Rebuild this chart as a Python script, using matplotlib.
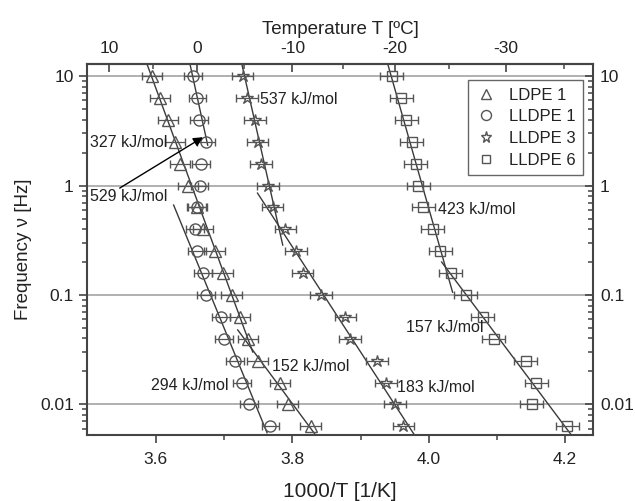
import matplotlib
matplotlib.use("Agg")
import matplotlib.pyplot as plt
from matplotlib.lines import Line2D
from matplotlib.ticker import FixedLocator, NullFormatter, LogLocator

plt.rcParams['font.family'] = ['Liberation Sans', 'DejaVu Sans']

# measurement frequencies (Hz)
freq = [10, 6.31, 3.98, 2.51, 1.58, 1.0, 0.631, 0.398, 0.251, 0.158,
        0.1, 0.0631, 0.0398, 0.0251, 0.0158, 0.01, 0.00631]

# 1000/T of the peak for each material
ldpe1 = [3.594, 3.606, 3.618, 3.628, 3.635, 3.647, 3.660, 3.669, 3.686,
         3.698, 3.711, 3.723, 3.735, 3.749, 3.782, 3.793, 3.827]
lldpe1 = [3.654, 3.661, 3.663, 3.673, 3.666, 3.664, 3.660, 3.657, 3.660,
          3.669, 3.673, 3.695, 3.700, 3.716, 3.726, 3.736, 3.768]
lldpe3 = [3.727, 3.733, 3.745, 3.749, 3.754, 3.764, 3.771, 3.790, 3.805,
          3.815, 3.842, 3.878, 3.884, 3.924, 3.937, 3.951, 3.963]
lldpe6 = [3.946, 3.960, 3.967, 3.975, 3.981, 3.985, 3.992, 4.006, 4.017,
          4.032, 4.054, 4.079, 4.095, 4.142, 4.158, 4.151, 4.203]
xerr = [0.015, 0.013, 0.016, 0.017]

series_names = ['LDPE 1', 'LLDPE 1', 'LLDPE 3', 'LLDPE 6']
markers = ['^', 'o', '*', 's']
msizes = [8, 8, 9, 7]

# Arrhenius fit segments: (x1, x2), (f1, f2), label
fit_x = [(3.587, 3.742), (3.720, 3.834), (3.650, 3.676), (3.626, 3.763),
         (3.726, 3.786), (3.749, 3.979), (3.940, 4.035), (4.019, 4.209)]
fit_f = [(12.9, 0.0301), (0.0479, 0.00526), (12.9, 2.34), (0.664, 0.0055),
         (12.9, 0.286), (0.854, 0.00526), (12.9, 0.106), (0.200, 0.00526)]
ea_labels = ['327 kJ/mol', '152 kJ/mol', '529 kJ/mol', '294 kJ/mol',
             '537 kJ/mol', '183 kJ/mol', '423 kJ/mol', '157 kJ/mol']
label_pos = [(3.503, 2.50), (3.770, 0.0220), (3.503, 0.80), (3.593, 0.01476),
             (3.752, 6.17), (3.953, 0.01416), (4.013, 0.609), (3.967, 0.050)]

mc = '#555555'
lc = '#3a3a3a'
tc = '#222222'

fig = plt.figure(figsize=(6.35, 5.01), dpi=100)
ax = fig.add_axes([0.137, 0.132, 0.797, 0.740])
ax.set_yscale('log')
ax.set_xlim(3.499, 4.241)
ax.set_ylim(0.00526, 12.9)

for yv in [10, 1, 0.1, 0.01]:
    ax.axhline(yv, color='#aaaaaa', lw=1.3, zorder=1)

for (x1, x2), (f1, f2) in zip(fit_x, fit_f):
    ax.plot([x1, x2], [f1, f2], color=lc, lw=1.0, zorder=2)

for xs, m, ms, xe in zip([ldpe1, lldpe1, lldpe3, lldpe6], markers, msizes, xerr):
    ax.errorbar(xs, freq, xerr=xe, fmt=m, ms=ms, mfc='none', mec=mc, mew=1.0,
                ecolor=mc, elinewidth=0.9, capsize=3, capthick=0.9, zorder=3)

for lab, (lx, ly) in zip(ea_labels, label_pos):
    ax.text(lx, ly, lab, fontsize=11.5, color=tc, ha='left', va='center', zorder=4)

ax.annotate('', xy=(3.669, 2.77), xytext=(3.547, 0.949),
            arrowprops=dict(arrowstyle='-|>', color='black', lw=1.0,
                            mutation_scale=14, shrinkA=0, shrinkB=0), zorder=5)

handles = [Line2D([], [], ls='none', marker=m, ms=ms * 0.9, mfc='none', mec=mc, mew=1.0)
           for m, ms in zip(markers, msizes)]
leg = ax.legend(handles, series_names, loc='upper right', bbox_to_anchor=(0.980, 0.957),
                borderaxespad=0, fancybox=False, framealpha=1, edgecolor='#666666',
                fontsize=12, handlelength=1.2, handletextpad=0.8, labelspacing=0.4,
                borderpad=0.45)
leg.get_frame().set_linewidth(1.0)
for t in leg.get_texts():
    t.set_color(tc)

for sp in ax.spines.values():
    sp.set_color('#444444')
    sp.set_linewidth(1.5)

ax.set_xticks([3.6, 3.8, 4.0, 4.2])
ax.set_xticklabels(['3.6', '3.8', '4.0', '4.2'])
ax.xaxis.set_minor_locator(FixedLocator([3.7, 3.9, 4.1]))
ax.set_yticks([0.01, 0.1, 1, 10])
ax.set_yticklabels(['0.01', '0.1', '1', '10'])
ax.yaxis.set_minor_locator(LogLocator(base=10, subs=range(2, 10)))
ax.yaxis.set_minor_formatter(NullFormatter())
ax.tick_params(which='major', direction='out', length=6, width=1.2, colors='#444444',
               labelsize=12.5, labelcolor=tc, top=False, right=False)
ax.tick_params(axis='x', which='major', pad=6)
ax.tick_params(which='minor', direction='out', length=3.5, width=1.1, colors='#444444',
               top=False, right=False)
ax.set_xlabel('1000/T [1/K]', fontsize=15, color=tc, labelpad=11)
ax.set_ylabel('Frequency ν [Hz]', fontsize=13.5, color=tc, labelpad=6)

# right axis, same frequency scale
ax2 = ax.twinx()
ax2.set_yscale('log')
ax2.set_ylim(ax.get_ylim())
ax2.set_yticks([0.01, 0.1, 1, 10])
ax2.set_yticklabels(['0.01', '0.1', '1', '10'])
ax2.yaxis.set_minor_locator(LogLocator(base=10, subs=range(2, 10)))
ax2.yaxis.set_minor_formatter(NullFormatter())
ax2.tick_params(which='major', direction='in', length=6, width=1.2, colors='#444444',
                labelsize=12.5, labelcolor=tc, pad=5)
ax2.tick_params(which='minor', direction='in', length=3.5, width=1.1, colors='#444444')
for sp in ax2.spines.values():
    sp.set_visible(False)

# top axis in degrees Celsius
top = ax.secondary_xaxis('top', functions=(lambda x: 1000.0 / x - 273.15,
                                           lambda t: 1000.0 / (t + 273.15)))
top.set_xticks([10, 0, -10, -20, -30])
top.set_xticklabels(['10', '0', '-10', '-20', '-30'])
top.xaxis.set_minor_locator(FixedLocator([5, -5, -15, -25, -35]))
top.tick_params(which='major', direction='in', length=6, width=1.2, colors='#444444',
                labelsize=12.5, labelcolor=tc, pad=6)
top.tick_params(which='minor', direction='in', length=3.5, width=1.1, colors='#444444')
top.spines['top'].set_color('#444444')
top.spines['top'].set_linewidth(1.5)
top.set_xlabel('Temperature T [ºC]', fontsize=13.5, color=tc, labelpad=5)

fig.savefig('out.png', dpi=100)
